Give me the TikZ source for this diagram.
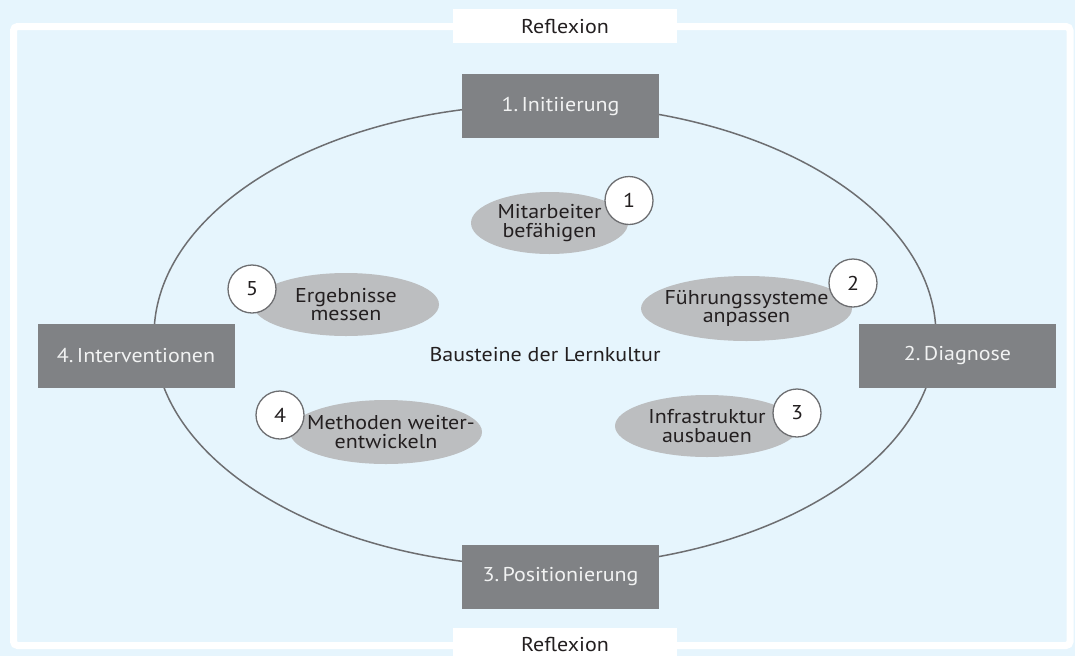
\documentclass[tikz,border=0pt]{standalone}
\usepackage{fontspec}
\setmainfont{PT Sans}[FakeStretch=1.1]
\usetikzlibrary{shapes.geometric}
\definecolor{bgblue}{HTML}{E6F5FD}
\definecolor{boxgray}{HTML}{808285}
\definecolor{ellgray}{HTML}{BCBEC0}
\definecolor{linegray}{HTML}{6D6E71}
\definecolor{txt}{HTML}{231F20}
\definecolor{boxtxt}{HTML}{F1F2F2}
\tikzset{
  base/.style={font=\fontsize{20}{18.5}\selectfont, text=txt},
  phasebox/.style={base, rectangle, fill=boxgray, text=boxtxt, minimum width=197pt, minimum height=64pt, inner sep=0pt},
  refbox/.style={base, rectangle, fill=white, minimum width=224pt, inner sep=0pt},
  bubble/.style={base, ellipse, fill=ellgray, inner xsep=-45pt, inner ysep=-20pt, align=center},
  numcirc/.style={base, circle, fill=white, draw=linegray, line width=1.3pt, minimum size=48pt, inner sep=0pt},
}
\begin{document}
\begin{tikzpicture}[x=1pt,y=-1pt]
\useasboundingbox (0,0) rectangle (1075,656);
\fill[bgblue] (0,0) rectangle (1075,656);
% frame
\draw[white, line width=7pt, rounded corners=4pt] (13.5,26.5) rectangle (1070,645.5);
% cycle ellipse
\draw[linegray, line width=1.5pt] (545,335.5) ellipse [x radius=391pt, y radius=231pt];
% reflexion labels
\node[refbox, minimum height=34pt] (reftop) at (565,26) {Reflexion};
\node[refbox, minimum height=32pt] (refbot) at (565,644) {Reflexion};
% phases
\node[phasebox] (init) at (560.5,106) {1.\,Initiierung};
\node[phasebox] (diag) at (957.5,355.5) {2.\,Diagnose};
\node[phasebox] (posi) at (560.5,576.5) {3.\,Positionierung};
\node[phasebox] (interv) at (136,355.5) {4.\,Interventionen};
% centre label
\node[base] (center) at (545,355) {Bausteine der Lernkultur};
% building blocks
\node[bubble, minimum width=157pt, minimum height=62pt] (b1) at (549.5,223) {Mitarbeiter\\befähigen};
\node[bubble, minimum width=211pt, minimum height=65pt] (b2) at (746.5,308.5) {Führungssysteme\\anpassen};
\node[bubble, minimum width=184pt, minimum height=62pt] (b3) at (707,426) {Infrastruktur\\ausbauen};
\node[bubble, minimum width=192pt, minimum height=64pt] (b4) at (386,432) {\hspace*{10pt}Methoden weiter-\\entwickeln};
\node[bubble, minimum width=186pt, minimum height=63pt] (b5) at (346,304.5) {Ergebnisse\\messen};
% numbers
\node[numcirc] (n1) at (629,200.5) {1};
\node[numcirc] (n2) at (853,283) {2};
\node[numcirc] (n3) at (797,413) {3};
\node[numcirc] (n4) at (280,415) {4};
\node[numcirc] (n5) at (252,289) {5};
\end{tikzpicture}
\end{document}
